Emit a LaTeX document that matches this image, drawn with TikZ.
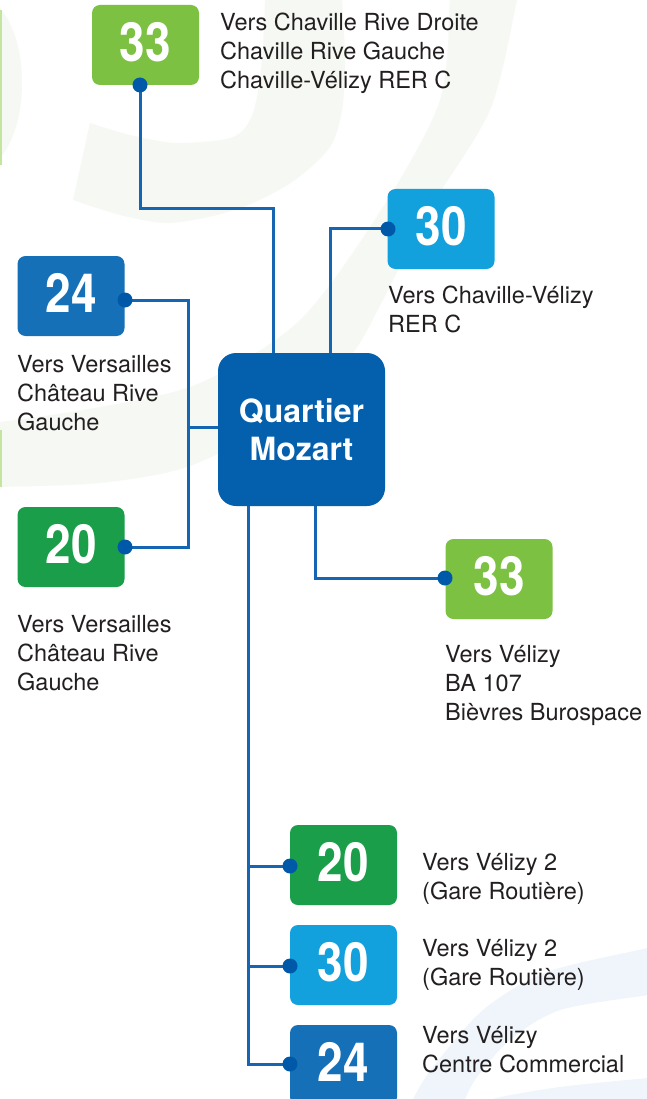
\documentclass[tikz,border=0pt]{standalone}
\usepackage{fontspec}
\setmainfont{TeX Gyre Heros}
\usetikzlibrary{backgrounds}
\definecolor{cLGreen}{HTML}{7DC143}
\definecolor{cDGreen}{HTML}{1A9E4A}
\definecolor{cLBlue}{HTML}{12A1DC}
\definecolor{cBlue}{HTML}{1570B8}
\definecolor{cMoz}{HTML}{045FAC}
\definecolor{cLine}{HTML}{1565B3}
\definecolor{cDot}{HTML}{0059A8}
\definecolor{cTxt}{HTML}{231F20}
\definecolor{cBgG}{HTML}{F6F9F3}
\definecolor{cBgB}{HTML}{EFF5FB}
\definecolor{cEdge}{HTML}{C3E5A0}
\newcommand{\bnum}[1]{\raisebox{6pt}{\scalebox{0.85}[1]{#1}}}
\newcommand{\destxt}[1]{\parbox[t]{320pt}{\fontsize{23.5}{29}\selectfont\raggedright #1}}
\begin{document}
\begin{tikzpicture}[x=1pt,y=-1pt,
  badge/.style={rounded corners=8pt, minimum width=107pt, minimum height=80pt, inner sep=0pt, text=white, font=\fontsize{54}{54}\selectfont\bfseries},
  hub/.style={rounded corners=18pt, minimum width=167pt, minimum height=153pt, inner sep=0pt, fill=cMoz, text=white, align=center, font=\fontsize{32}{38}\selectfont\bfseries},
  destlbl/.style={anchor=base west, inner sep=0pt, text=cTxt},
  dot/.style={circle, fill=cDot, minimum size=15pt, inner sep=0pt},
  conn/.style={draw=cLine, line width=3pt}]
\useasboundingbox (0,0) rectangle (647,1099);

% faint background decorations
\begin{scope}[on background layer]
  \fill[white] (0,0) rectangle (647,1099);
  \clip (0,0) rectangle (647,1099);
  \fill[cBgG] (-20,83) ellipse [x radius=42, y radius=85];
  \fill[cBgG] plot[smooth] coordinates {(517,-5) (517,0) (490,110) (427,213) (383,300) (347,360) (270,425) (187,467) (100,483) (0,487) (-10,487)}
     -- plot[smooth] coordinates {(-10,422) (0,422) (100,407) (200,383) (300,320) (383,207) (440,100) (450,0) (450,-5)} -- cycle;
  \fill[cBgG] plot[smooth] coordinates {(73,200) (120,215) (167,223) (213,216) (253,203) (295,180) (330,147) (342,110) (345,60) (342,0) (342,-5)}
     -- plot[smooth] coordinates {(265,-5) (265,0) (262,60) (253,113) (233,137) (177,143) (130,135) (90,123)} -- cycle;
  \fill[cEdge] (0,10) rectangle (2,165);
  \fill[cEdge] (0,430) rectangle (2,487);
  \fill[cBgB] plot[smooth] coordinates {(660,945) (648,948) (547,972) (483,1010) (433,1067) (413,1099) (410,1110)}
     -- plot[smooth] coordinates {(462,1110) (465,1099) (477,1077) (510,1040) (560,1010) (648,995) (660,993)} -- cycle;
  \fill[cBgB] plot[smooth] coordinates {(488,1110) (493,1099) (560,1087) (648,1078) (660,1077)} -- (660,1110) -- cycle;
\end{scope}

% badges
\node[badge, fill=cLGreen] (b33t) at (145.5,45) {\bnum{33}};
\node[badge, fill=cLBlue]  (b30t) at (441,229) {\bnum{30}};
\node[badge, fill=cBlue]   (b24l) at (71,296) {\bnum{24}};
\node[badge, fill=cDGreen] (b20l) at (71,547) {\bnum{20}};
\node[badge, fill=cLGreen] (b33r) at (499,579) {\bnum{33}};
\node[badge, fill=cDGreen] (b20b) at (343.5,865) {\bnum{20}};
\node[badge, fill=cLBlue]  (b30b) at (343.5,965) {\bnum{30}};
\node[badge, fill=cBlue]   (b24b) at (343.5,1065) {\bnum{24}};
\node[hub] (moz) at (301.5,429.5) {Quartier\\Mozart};

% destination texts
\node[destlbl] (t33t) at (220,31) {\destxt{Vers Chaville Rive Droite\\Chaville Rive Gauche\\Chaville-Vélizy RER C}};
\node[destlbl] (t30t) at (388,303) {\destxt{Vers Chaville-Vélizy\\RER C}};
\node[destlbl] (t24l) at (17,372) {\destxt{Vers Versailles\\Château Rive\\Gauche}};
\node[destlbl] (t20l) at (17,632) {\destxt{Vers Versailles\\Château Rive\\Gauche}};
\node[destlbl] (t33r) at (445,662) {\destxt{Vers Vélizy\\BA 107\\Bièvres Burospace}};
\node[destlbl] (t20b) at (422,870) {\destxt{Vers Vélizy 2\\(Gare Routière)}};
\node[destlbl] (t30b) at (422,956) {\destxt{Vers Vélizy 2\\(Gare Routière)}};
\node[destlbl] (t24b) at (422,1043) {\destxt{Vers Vélizy\\Centre Commercial}};

% dots
\node[dot] (d33t) at (140,85) {};
\node[dot] (d30t) at (388,229) {};
\node[dot] (d24l) at (125,300) {};
\node[dot] (d20l) at (125,547) {};
\node[dot] (d33r) at (445,578) {};
\node[dot] (d20b) at (290,866) {};
\node[dot] (d30b) at (290,966) {};
\node[dot] (d24b) at (290,1064) {};

% junction points
\coordinate (j33) at (273,209);
\coordinate (j30) at (330,229);
\coordinate (jl) at (188,427);
\coordinate (jr) at (315,578);
\coordinate (jb) at (248,1064);

% connectors
\begin{scope}[on background layer]
  \draw[conn] (d33t.center) |- (j33) -- (j33 |- moz.north);
  \draw[conn] (d30t.center) -- (j30) -- (j30 |- moz.north);
  \draw[conn] (d24l.center) -| (jl) |- (d20l.center);
  \draw[conn] (jl) -- (jl -| moz.west);
  \draw[conn] (jr |- moz.south) -- (jr) -- (d33r.center);
  \draw[conn] (jb |- moz.south) -- (jb) -- (d24b.center);
  \draw[conn] (d20b.center) -- (d20b -| jb);
  \draw[conn] (d30b.center) -- (d30b -| jb);
\end{scope}
\end{tikzpicture}
\end{document}
